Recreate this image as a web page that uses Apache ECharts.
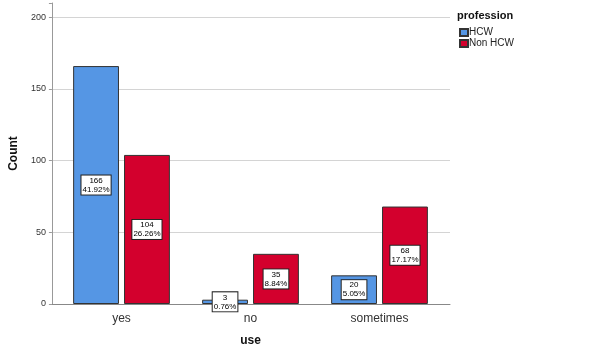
<!DOCTYPE html>
<html>
<head>
<meta charset="utf-8">
<script src="https://cdn.jsdelivr.net/npm/echarts@6/dist/echarts.min.js"></script>
<style>
  html, body { margin: 0; padding: 0; background: #fff; }
  #chart { width: 602px; height: 354px; }
</style>
</head>
<body>
<div id="chart"></div>
<script>
    var categories = ['yes', 'no', 'sometimes'];
    var hcw = [166, 3, 20];
    var nonHcw = [104, 35, 68];
    var yTicks = [0, 50, 100, 150, 200];

    var total = 0;
    hcw.concat(nonHcw).forEach(function (v) { total += v; });

    var boxLabel = {
        show: true,
        position: 'inside',
        color: '#000',
        fontFamily: 'Arial, Liberation Sans',
        fontSize: 8,
        lineHeight: 9,
        backgroundColor: '#fff',
        borderColor: '#222',
        borderWidth: 1,
        padding: [1, 1, 0, 1],
        formatter: function (p) {
            return p.value + '\n' + (p.value / total * 100).toFixed(2) + '%';
        }
    };

    var myChart = echarts.init(document.getElementById('chart'));
    var option = {
        animation: false,
        textStyle: { fontFamily: 'Arial, Liberation Sans' },
        title: {
            text: 'profession',
            left: 452,
            top: 5,
            textStyle: { fontSize: 11, fontWeight: 'bold', color: '#111' }
        },
        legend: {
            orient: 'vertical',
            left: 454,
            top: 22,
            itemWidth: 8,
            itemHeight: 7,
            itemGap: 0,
            icon: 'rect',
            textStyle: { fontSize: 10, color: '#222', lineHeight: 11, padding: [0, 0, 0, -4] },
            data: ['HCW', 'Non HCW']
        },
        // frame grid: axis lines and gridlines; bar grid: the categories
        grid: [
            { left: 51, right: 152, top: 3, bottom: 50 },
            { left: 57, right: 158, top: 3, bottom: 50 }
        ],
        xAxis: [
            {
                gridIndex: 0,
                type: 'value',
                min: 0,
                max: 1,
                axisLine: { show: true, onZero: false, lineStyle: { color: '#888' } },
                axisTick: { show: false },
                axisLabel: { show: false },
                splitLine: { show: false }
            },
            {
                gridIndex: 1,
                type: 'category',
                data: categories,
                name: 'use',
                nameLocation: 'middle',
                nameGap: 31,
                nameTextStyle: { fontSize: 12, fontWeight: 'bold', color: '#111' },
                axisLine: { show: false },
                axisTick: { show: false },
                axisLabel: { fontSize: 12, color: '#333', margin: 9 }
            }
        ],
        yAxis: [
            {
                gridIndex: 0,
                type: 'value',
                min: 0,
                max: 210,
                interval: 50,
                name: 'Count',
                nameLocation: 'middle',
                nameGap: 27,
                nameTextStyle: { fontSize: 12, fontWeight: 'bold', color: '#111' },
                axisLine: { show: true, lineStyle: { color: '#999' } },
                axisTick: { show: true, length: 3, lineStyle: { color: '#999' } },
                axisLabel: {
                    fontSize: 9,
                    color: '#333',
                    margin: 6,
                    formatter: function (v) { return yTicks.indexOf(v) >= 0 ? v : ''; }
                },
                splitLine: { show: true, showMaxLine: false, lineStyle: { color: '#d4d4d4' } }
            },
            {
                gridIndex: 1,
                type: 'value',
                min: 0,
                max: 210,
                show: false
            }
        ],
        series: [
            {
                name: 'HCW',
                type: 'bar',
                xAxisIndex: 1,
                yAxisIndex: 1,
                data: hcw,
                barGap: '11%',
                barCategoryGap: '25%',
                itemStyle: { color: '#5596E4', borderColor: '#333', borderWidth: 1 },
                label: boxLabel
            },
            {
                name: 'Non HCW',
                type: 'bar',
                xAxisIndex: 1,
                yAxisIndex: 1,
                data: nonHcw,
                itemStyle: { color: '#D3002D', borderColor: '#333', borderWidth: 1 },
                label: boxLabel
            }
        ]
    };

    myChart.setOption(option);
</script>
</body>
</html>
